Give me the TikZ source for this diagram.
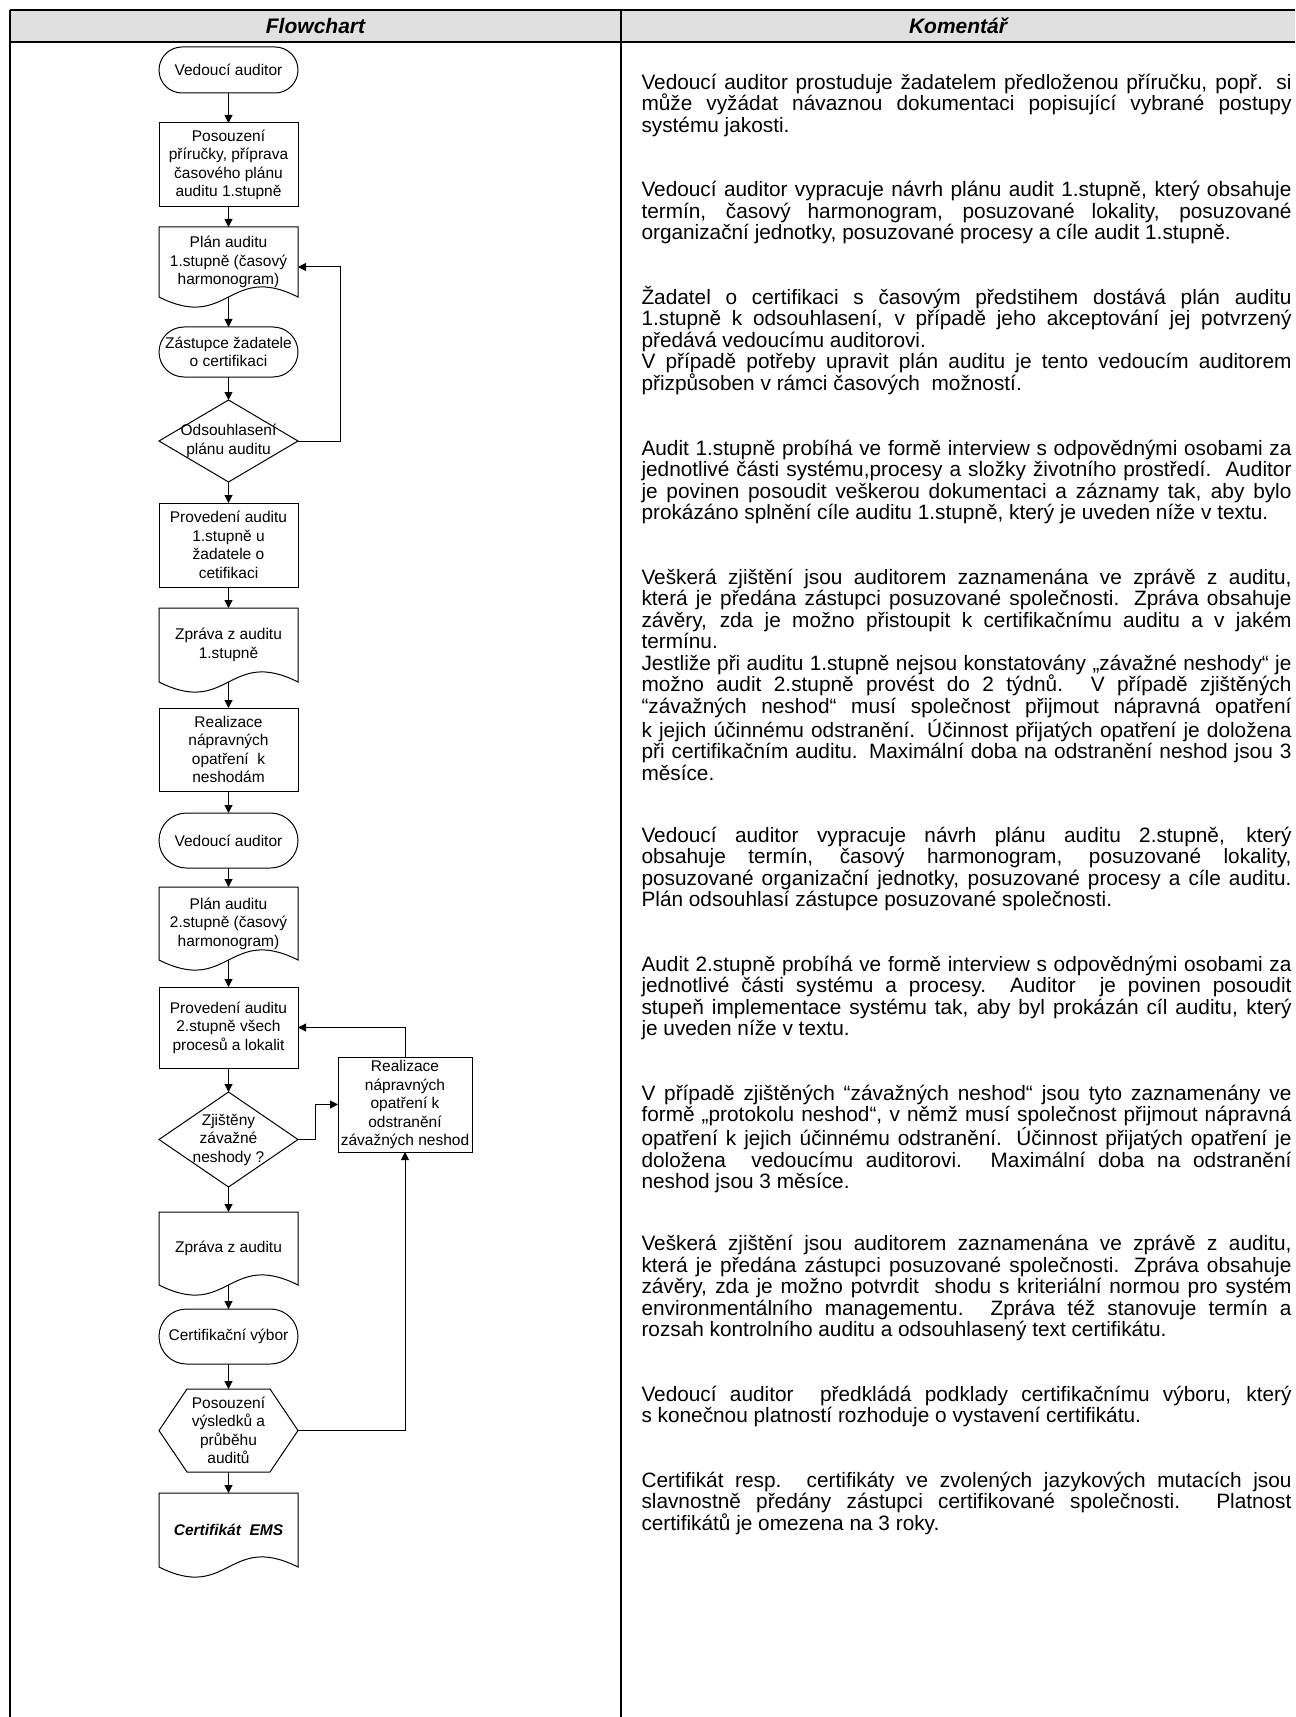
\documentclass[tikz,border=0pt]{standalone}
\usepackage{fontspec}
\setmainfont{Liberation Sans}
\usetikzlibrary{arrows.meta,calc}
\definecolor{headgray}{RGB}{224,224,224}
\tolerance=10000 \hbadness=10000

% obrysy tvaru, ktere TikZ nema
\newcommand{\docframe}[1]{%
  \draw (#1.south west) .. controls ($(#1.south)+(0,35)$) and ($(#1.south)+(0,-35)$) .. (#1.south east)
    -- (#1.north east) -- (#1.north west) -- cycle;}
\newcommand{\diaframe}[1]{%
  \draw (#1.north) -- (#1.east) -- (#1.south) -- (#1.west) -- cycle;}
\newcommand{\hexframe}[1]{%
  \draw (#1.west) -- ($(#1.north west)+(28,0)$) -- ($(#1.north east)+(-28,0)$) -- (#1.east)
    -- ($(#1.south east)+(-28,0)$) -- ($(#1.south west)+(28,0)$) -- cycle;}

\begin{document}
\begin{tikzpicture}[x=0.5pt,y=-0.5pt,line width=0.5pt,
    >={Triangle[length=4pt,width=4pt]},
    fc/.style={font=\fontsize{7.75}{9.25}\selectfont,align=center,
      minimum width=69.5pt,inner sep=1pt,outer sep=0pt},
    term/.style={fc,draw,rounded corners=#1,minimum height=2*#1},
    procbox/.style={fc,draw,minimum height=#1},
    shapebox/.style={fc,minimum height=#1},
    hdr/.style={font=\fontsize{10.5}{12}\selectfont\bfseries\itshape},
    koment/.style={anchor=base west,text width=325pt,align=justify,
      inner sep=0pt,font=\fontsize{10.4}{10.75}\selectfont}]
  \useasboundingbox (0,0) rectangle (1295,1717);

  % ------ tabulka ---------------
  \fill[headgray] (10,10) rectangle (1295,42);
  \draw[line width=1.1pt] (10,10) -- (1295,10) (10,42) -- (1295,42);
  \draw[line width=1.1pt] (10,10) -- (10,1717) (621,10) -- (621,1717);
  \node[hdr] (hflow) at (315.5,26) {Flowchart};
  \node[hdr] (hkom) at (958,26) {Komentář};

  % ------ flowchart ---------------
  \node[term=11.5pt] (t1) at (228.5,70) {Vedoucí auditor};
  \node[procbox=42pt] (r2) at (228.5,165) {Posouzení\\příručky, příprava\\časového plánu\\auditu 1.stupně};
  \node[shapebox=35pt] (d3) at (228.5,262) {Plán auditu\\1.stupně (časový\\harmonogram)};
  \node[term=12.5pt] (t4) at (228.5,352) {Zástupce žadatele\\o certifikaci};
  \node[shapebox=41pt] (o5) at (228.5,441) {Odsouhlasení\\plánu auditu};
  \node[procbox=42pt] (r6) at (228.5,545) {Provedení auditu\\1.stupně u\\žadatele o\\cetifikaci};
  \node[shapebox=37pt] (d7) at (228.5,645) {Zpráva z auditu\\1.stupně};
  \node[procbox=41.5pt] (r8) at (228.5,749.5) {Realizace\\nápravných\\opatření\ \ k\\neshodám};
  \node[term=13.75pt] (t9) at (228.5,840.5) {Vedoucí auditor};
  \node[shapebox=36.5pt] (d10) at (228.5,923.5) {Plán auditu\\2.stupně (časový\\harmonogram)};
  \node[procbox=40.5pt] (r11) at (228.5,1027.5) {Provedení auditu\\2.stupně všech\\procesů a lokalit};
  \node[shapebox=47.5pt] (o12) at (228.5,1139.5) {Zjištěny\\závažné\\neshody ?};
  \node[procbox=47.5pt,minimum width=67pt] (r13) at (405,1104.5) {Realizace\\nápravných\\opatření k\\odstranění\\závažných neshod};
  \node[shapebox=36.5pt] (d14) at (228.5,1248.5) {Zpráva z auditu};
  \node[term=13.75pt] (t15) at (228.5,1336.5) {Certifikační výbor};
  \node[shapebox=41.5pt] (h16) at (228.5,1430.5) {Posouzení\\výsledků a\\průběhu\\auditů};
  \node[shapebox=37pt] (d17) at (228.5,1530) {\bfseries\itshape Certifikát\ \ EMS};

  \docframe{d3} \docframe{d7} \docframe{d10} \docframe{d14} \docframe{d17}
  \diaframe{o5} \diaframe{o12}
  \hexframe{h16}

  \foreach \a/\b in {t1/r2,r2/d3,d3/t4,t4/o5,o5/r6,r6/d7,d7/r8,r8/t9,t9/d10,
      d10/r11,r11/o12,o12/d14,d14/t15,t15/h16,h16/d17}
    \draw[->] (\a.south) -- (\b.north);
  \coordinate (d3in) at ($(d3.east)+(0,5)$);
  \draw[->] (o5.east) -- ++(42,0) |- (d3in);
  \draw[->] (o12.east) -- ++(17,0) |- (r13.west);
  \draw[->] (r13.north) |- (r11.east);
  \draw[->] (h16.east) -| (r13.south);

  % ------ komentar ---------------
  \node[koment] (c1) at (641,89.5) {Vedoucí auditor prostuduje žadatelem předloženou příručku, popř. si\linebreak
    může vyžádat návaznou dokumentaci popisující vybrané postupy\linebreak
    systému jakosti.};
  \node[koment] (c2) at (641,197) {Vedoucí auditor vypracuje návrh plánu audit 1.stupně, který obsahuje\linebreak
    termín, časový harmonogram, posuzované lokality, posuzované\linebreak
    organizační jednotky, posuzované procesy a cíle audit 1.stupně.};
  \node[koment] (c3) at (641,304.5) {Žadatel o certifikaci s~časovým předstihem dostává plán auditu\linebreak
    1.stupně k~odsouhlasení, v~případě jeho akceptování jej potvrzený\linebreak
    předává vedoucímu auditorovi.\par
    V případě potřeby upravit plán auditu je tento vedoucím auditorem\linebreak
    přizpůsoben v rámci časových\ \ možností.};
  \node[koment] (c4) at (641,455) {Audit 1.stupně probíhá ve formě interview s odpovědnými osobami za\linebreak
    jednotlivé části systému,procesy a složky životního prostředí.\ \ Auditor\linebreak
    je povinen posoudit veškerou dokumentaci a záznamy tak, aby bylo\linebreak
    prokázáno splnění cíle auditu 1.stupně, který je uveden níže v textu.};
  \node[koment] (c5) at (641,584) {Veškerá zjištění jsou auditorem zaznamenána ve zprávě z~auditu,\linebreak
    která je předána zástupci posuzované společnosti. Zpráva obsahuje\linebreak
    závěry, zda je možno přistoupit k~certifikačnímu auditu a v~jakém\linebreak
    termínu.\par
    Jestliže při auditu 1.stupně nejsou konstatovány „závažné neshody“ je\linebreak
    možno audit 2.stupně provést do 2 týdnů. V~případě zjištěných\linebreak
    “závažných neshod“ musí společnost přijmout nápravná opatření\linebreak
    k~jejich účinnému odstranění. Účinnost přijatých opatření je doložena\linebreak
    při certifikačním auditu. Maximální doba na odstranění neshod jsou 3\linebreak
    měsíce.};
  \node[koment] (c6) at (641,842) {Vedoucí auditor vypracuje návrh plánu auditu 2.stupně, který\linebreak
    obsahuje termín, časový harmonogram, posuzované lokality,\linebreak
    posuzované organizační jednotky, posuzované procesy a cíle auditu.\linebreak
    Plán odsouhlasí zástupce posuzované společnosti.};
  \node[koment] (c7) at (641,971) {Audit 2.stupně probíhá ve formě interview s odpovědnými osobami za\linebreak
    jednotlivé části systému a procesy.\ \ Auditor\ \ je povinen posoudit\linebreak
    stupeň implementace systému tak, aby byl prokázán cíl auditu, který\linebreak
    je uveden níže v textu.};
  \node[koment] (c8) at (641,1100) {V případě zjištěných “závažných neshod“ jsou tyto zaznamenány ve\linebreak
    formě „protokolu neshod“, v němž musí společnost přijmout nápravná\linebreak
    opatření k~jejich účinnému odstranění. Účinnost přijatých opatření je\linebreak
    doložena\ \ vedoucímu auditorovi. Maximální doba na odstranění\linebreak
    neshod jsou 3 měsíce.};
  \node[koment] (c9) at (641,1250.5) {Veškerá zjištění jsou auditorem zaznamenána ve zprávě z~auditu,\linebreak
    která je předána zástupci posuzované společnosti. Zpráva obsahuje\linebreak
    závěry, zda je možno potvrdit\ \ shodu s~kriteriální normou pro systém\linebreak
    environmentálního managementu. Zpráva též stanovuje termín a\linebreak
    rozsah kontrolního auditu a odsouhlasený text certifikátu.};
  \node[koment] (c10) at (641,1401) {Vedoucí auditor\ \ předkládá podklady certifikačnímu výboru, který\linebreak
    s~konečnou platností rozhoduje o vystavení certifikátu.};
  \node[koment] (c11) at (641,1487) {Certifikát resp. certifikáty ve zvolených jazykových mutacích jsou\linebreak
    slavnostně předány zástupci certifikované společnosti. Platnost\linebreak
    certifikátů je omezena na 3 roky.};
\end{tikzpicture}
\end{document}
